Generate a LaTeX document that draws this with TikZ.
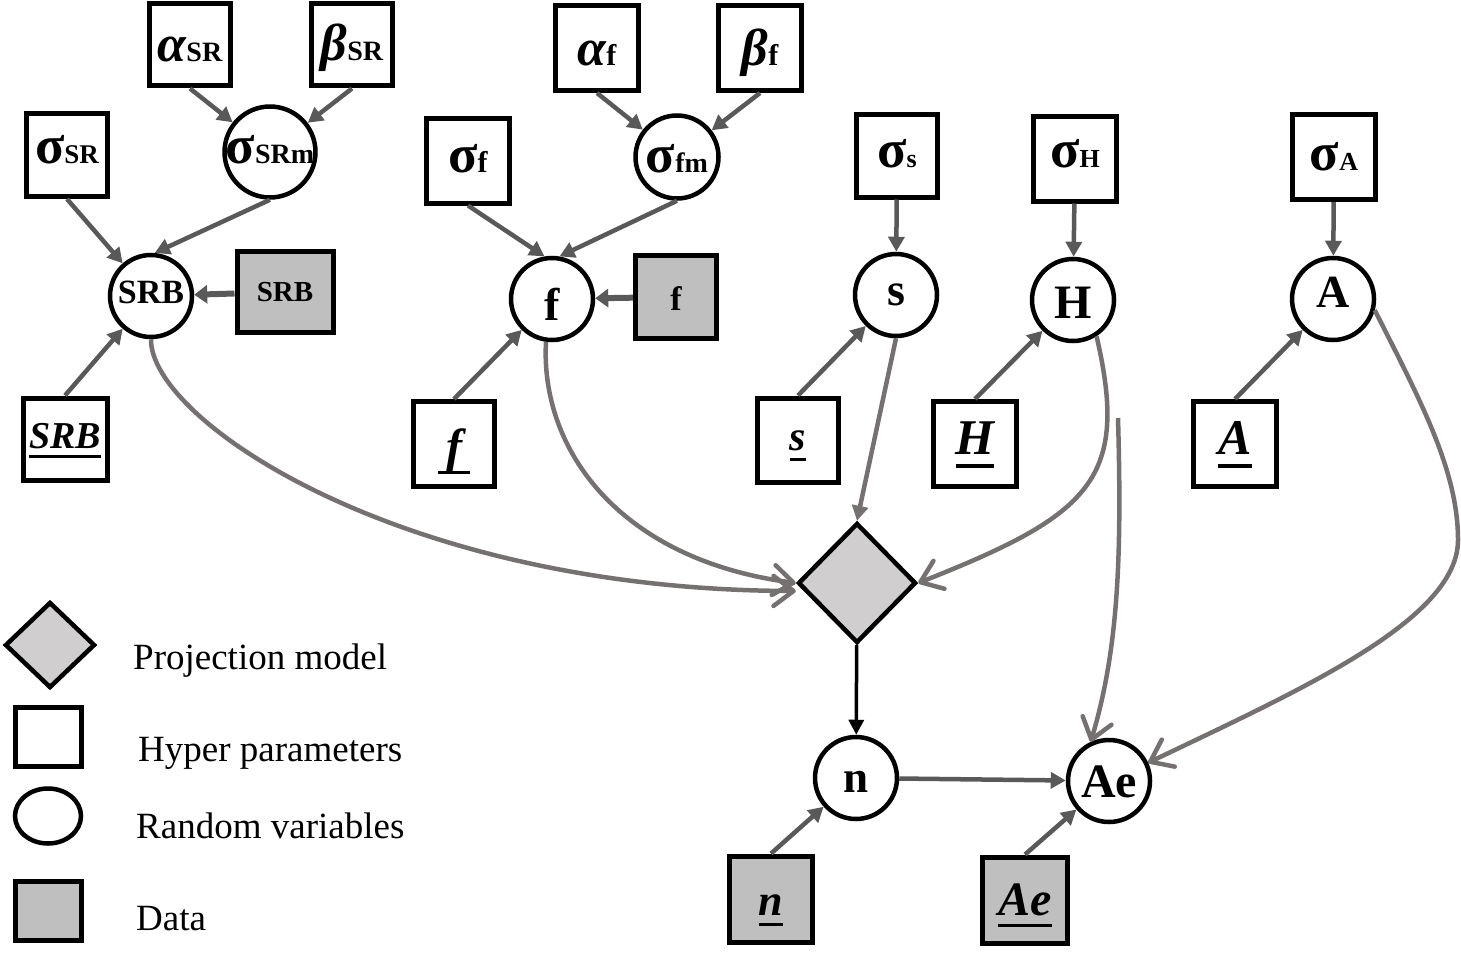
\documentclass[tikz,border=0pt]{standalone}
\usepackage{fontspec}
\setmainfont{Liberation Serif}
\usetikzlibrary{shapes.geometric,arrows.meta}
\definecolor{edgedark}{HTML}{595959}
\definecolor{edgelight}{HTML}{767171}
\definecolor{projfill}{HTML}{D0CECE}
\definecolor{datafill}{HTML}{BFBFBF}
\newcommand\fsz[1]{\fontsize{#1}{#1}\selectfont}
\newcommand\myul[1]{\setbox0=\hbox{#1}\rlap{\rule[-0.26em]{\wd0}{0.075em}}\box0}
\begin{document}
\begin{tikzpicture}[x=1pt,y=-1pt,
  hyp/.style={draw, line width=5pt, rectangle, minimum width=81pt, minimum height=82pt, inner sep=0pt, font=\bfseries},
  dat/.style={hyp, fill=datafill},
  rv/.style={draw, circle, line width=4.5pt, minimum size=82pt, inner sep=0pt, font=\bfseries},
  proj/.style={draw, diamond, line width=4.5pt, fill=projfill, inner sep=0pt},
  th/.style={text height=#1pt, text depth=0pt},
  dk/.style={draw=edgedark, line width=4.5pt, -{Triangle[length=15pt,width=16pt]}},
  dkd/.style={draw=edgedark, line width=6pt, -{Triangle[length=13pt,width=18pt]}},
  lt/.style={draw=edgelight, line width=4.5pt, -{Straight Barb[length=20pt,width=30pt,round]}},
  ltt/.style={draw=edgelight, line width=4.5pt, -{Triangle[length=15pt,width=16pt]}},
  bk/.style={draw=black, line width=3.5pt, -{Triangle[length=15pt,width=15pt]}},
  legtext/.style={anchor=base west, inner sep=0pt, font=\fsz{37}}]
\useasboundingbox (0,0) rectangle (1461,963);

% SRB group
\node[hyp, th=34] (aSR) at (190,45) {\fsz{52}\itshape α\upshape\fsz{28}SR};
\node[hyp, th=32] (bSR) at (352,45) {\fsz{52}\itshape β\upshape\fsz{28}SR};
\node[hyp, th=17, minimum height=83pt] (sSR) at (67,155) {\fsz{54}σ\fsz{27}SR};
\node[rv, th=22, minimum size=80pt] (sSRm) at (270,152) {\fsz{54}σ\fsz{28}SRm};
\node[rv, th=14] (SRBc) at (151,296) {\fsz{34}SRB};
\node[dat, th=19, minimum width=96pt, minimum height=81pt] (SRBd) at (285,292) {\fsz{29}SRB};
\node[hyp, th=18, minimum width=84pt] (SRBu) at (65,439) {\fsz{38}\itshape\myul{SRB}};

% f group
\node[hyp, th=36, minimum width=83pt, minimum height=85pt] (af) at (597,48) {\fsz{52}\itshape α\upshape\fsz{30}f};
\node[hyp, th=36, minimum width=83pt, minimum height=85pt] (bf) at (760,48) {\fsz{52}\itshape β\upshape\fsz{30}f};
\node[hyp, th=22, minimum width=83pt, minimum height=84pt] (sf) at (468,161) {\fsz{54}σ\fsz{30}f};
\node[rv, th=30, minimum size=83pt] (sfm) at (677,157) {\fsz{54}σ\fsz{28}fm};
\node[rv, th=42] (fc) at (552,299) {\fsz{46}f};
\node[dat, th=26, minimum height=83pt] (fd) at (676,297) {\fsz{34}f};
\node[hyp, th=36, minimum height=85pt] (fu) at (454,444) {\fsz{48}\itshape\myul{\,f\,}};

% s group
\node[hyp, th=22] (ss) at (897,156) {\fsz{54}σ\fsz{26}s};
\node[rv, th=20] (sc) at (896,295) {\fsz{46}s};
\node[hyp, th=20, minimum height=84pt] (su) at (798,440) {\fsz{42}\itshape\myul{s}};

% H group
\node[hyp, th=16, minimum width=83pt, minimum height=84pt] (sH) at (1075,159) {\fsz{54}σ\fsz{26}H};
\node[rv, th=37] (Hc) at (1073,300) {\fsz{48}H};
\node[hyp, th=21, minimum width=83pt, minimum height=85pt] (Hu) at (975,444) {\fsz{50}\itshape\myul{H}};

% A group
\node[hyp, th=27, minimum width=83pt, minimum height=85pt] (sA) at (1334,157) {\fsz{54}σ\fsz{26}A};
\node[rv, th=16] (Ac) at (1333,299) {\fsz{46}A};
\node[hyp, th=21, minimum width=83pt, minimum height=85pt] (Au) at (1235,444) {\fsz{50}\itshape\myul{A}};

% projection, n, Ae
\node[proj, minimum width=118pt, minimum height=120pt] (proj) at (857,583) {};
\node[rv, th=28] (nc) at (856,778) {\fsz{45}n};
\node[rv, th=32] (Aec) at (1109,781) {\fsz{48}Ae};
\node[dat, th=32, minimum width=83pt, minimum height=86pt] (nu) at (771,899) {\fsz{44}\itshape\myul{n}};
\node[dat, th=30, minimum width=85pt, minimum height=86pt] (Aeu) at (1025,900) {\fsz{48}\itshape\myul{Ae}};

% legend
\node[proj, minimum width=90pt, minimum height=86pt] (lgproj) at (50,645) {};
\node[draw, line width=5pt, minimum width=66pt, minimum height=59pt, inner sep=0pt] (lghyp) at (48,737) {};
\node[draw, ellipse, line width=4.5pt, minimum width=66pt, minimum height=55pt, inner sep=0pt] (lgrv) at (48,816) {};
\node[draw, line width=5pt, fill=datafill, minimum width=66pt, minimum height=59pt, inner sep=0pt] (lgdat) at (48,911) {};
\node[legtext] (tproj) at (133,669) {Projection model};
\node[legtext] (thyp) at (138,761) {Hyper parameters};
\node[legtext] (trv) at (136,838) {Random variables};
\node[legtext] (tdat) at (136,930) {Data};

% edges: SRB group
\draw[dk] (aSR.south) -- (sSRm);
\draw[dk] (bSR.south) -- (sSRm);
\draw[dk] (sSR.south) -- (SRBc);
\draw[dk] (sSRm.south) -- (SRBc.85);
\draw[dkd] (SRBd) -- (SRBc);
\draw[dk] (SRBu.north) -- (SRBc);

% edges: f group
\draw[dk] (af.south) -- (sfm);
\draw[dk] (bf.south) -- (sfm);
\draw[dk] (sf.south) -- (fc.100);
\draw[dk] (sfm.south) -- (fc.80);
\draw[dkd] (fd) -- (fc);
\draw[dk] (fu.north) -- (fc);

% edges: s, H, A
\draw[dk] (ss) -- (sc);
\draw[dk] (su.north) -- (sc);
\draw[dk] (sH) -- (Hc);
\draw[dk] (Hu.north) -- (Hc);
\draw[dk] (sA) -- (Ac);
\draw[dk] (Au.north) -- (Ac);

% edges: bottom
\draw[dk] (nu.north) -- (nc);
\draw[dk] (Aeu.north) -- (Aec);
\draw[dk] (nc) -- (Aec);
\draw[bk] (proj) -- (nc);

% curves into projection model
\draw[ltt] (sc.south) -- (proj.north);
\draw[lt] (SRBc.south) .. controls (150,420) and (400,590) .. ([yshift=-8pt]proj.west);
\draw[lt] (fc.262) .. controls (540,450) and (620,560) .. (proj.west);
\draw[lt] (Hc.-57) .. controls (1130,480) and (1090,515) .. (proj.east);
\coordinate (Hbr) at (1118,418);
\draw[lt] (Hbr) .. controls (1122,560) and (1118,650) .. (Aec.115);
\draw[lt] (Ac.-15) .. controls (1420,400) and (1458,470) .. (1458,540) .. controls (1458,620) and (1300,690) .. (Aec.25);
\end{tikzpicture}
\end{document}
